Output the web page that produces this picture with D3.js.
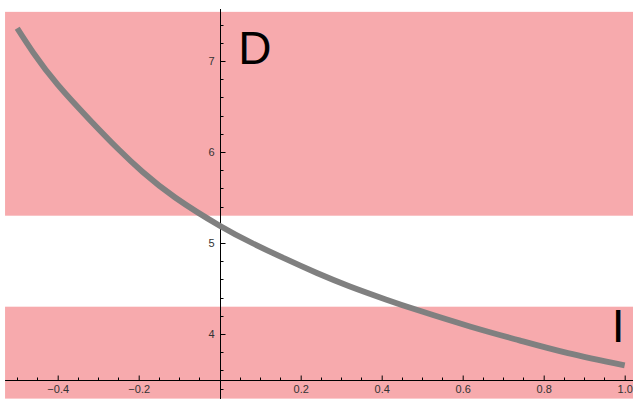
<!DOCTYPE html>
<html><head><meta charset="utf-8">
<script src="https://cdn.jsdelivr.net/npm/d3@7"></script>
<style>
html,body{margin:0;padding:0;background:#fff;}
svg{display:block;}
text{font-family:"Liberation Sans",Arial,sans-serif;}
</style></head>
<body>
<svg id="chart" width="633" height="399"></svg>
<script>
// ---- data ----
const curveX = [-0.5, -0.46, -0.4, -0.32, -0.25, -0.19, -0.11, 0, 0.08, 0.16, 0.24, 0.32, 0.41, 0.49, 0.62, 0.74, 0.86, 1.0];
const curveY = [7.36, 7.09, 6.74, 6.35, 6.03, 5.78, 5.50, 5.19, 5.00, 4.83, 4.67, 4.525, 4.38, 4.26, 4.08, 3.93, 3.79, 3.655];
const bandUpper = [5.3, 7.54];  // upper shaded band (y range)
const bandLower = [3.29, 4.3];  // lower shaded band (y range)
const xMajorTicks = [-0.4, -0.2, 0.2, 0.4, 0.6, 0.8, 1.0];
const xTickLabels = ["\u22120.4", "\u22120.2", "0.2", "0.4", "0.6", "0.8", "1.0"];
const yMajorTicks = [4, 5, 6, 7];
const yTickLabels = ["4", "5", "6", "7"];
const xDomain = [-0.53, 1.03];
const labels = [{text: "D", x: 0.046, y: 6.967}, {text: "I", x: 0.984, y: 3.912}];

// ---- scales ----
const svg = d3.select("#chart");
const x = d3.scaleLinear().domain([-0.5, 1.0]).range([17.2, 624.7]);
const y = d3.scaleLinear().domain([4, 7]).range([334, 61]);

// shaded bands
const bands = [bandUpper, bandLower];
svg.selectAll("rect.band").data(bands).enter().append("rect")
  .attr("class", "band")
  .attr("x", x(xDomain[0]))
  .attr("width", x(xDomain[1]) - x(xDomain[0]))
  .attr("y", d => y(d[1]))
  .attr("height", d => y(d[0]) - y(d[1]))
  .attr("fill", "#F7AAAD");

// axes
const axisY = 3.5;
const ay = Math.round(y(axisY)) + 0.5;
const ax = Math.round(x(0)) + 0.5;

const xMinor = d3.range(-10, 21).map(i => i * 0.05).filter(v => Math.abs(Math.round(v * 5) - v * 5) > 1e-6);
const yMinor = d3.range(17, 38).map(i => i * 0.2).filter(v => Math.abs(Math.round(v) - v) > 1e-6);

const gx = svg.append("g").attr("transform", `translate(0,${ay})`);
gx.append("line").attr("x1", x(xDomain[0])).attr("x2", 633).attr("stroke", "#000").attr("stroke-width", 1);
gx.selectAll("line.minor").data(xMinor).enter().append("line")
  .attr("x1", d => Math.round(x(d)) + 0.5).attr("x2", d => Math.round(x(d)) + 0.5)
  .attr("y1", 0).attr("y2", -3).attr("stroke", "#000");
const xAxis = d3.axisBottom(x).tickValues(xMajorTicks)
  .tickFormat((d, i) => xTickLabels[i]).tickSizeInner(-5).tickSizeOuter(0).tickPadding(5);
const gxa = gx.append("g").call(xAxis);
gxa.select(".domain").remove();
gxa.selectAll("text").attr("font-size", 11).attr("fill", "#333").attr("font-family", "'Liberation Sans',Arial,sans-serif");

const gy = svg.append("g").attr("transform", `translate(${ax},0)`);
gy.append("line").attr("y1", 9).attr("y2", 399).attr("stroke", "#000").attr("stroke-width", 1);
gy.selectAll("line.minor").data(yMinor).enter().append("line")
  .attr("y1", d => Math.round(y(d)) + 0.5).attr("y2", d => Math.round(y(d)) + 0.5)
  .attr("x1", 0).attr("x2", 3).attr("stroke", "#000");
const yAxis = d3.axisLeft(y).tickValues(yMajorTicks)
  .tickFormat((d, i) => yTickLabels[i]).tickSizeInner(-5).tickSizeOuter(0).tickPadding(6);
const gya = gy.append("g").call(yAxis);
gya.select(".domain").remove();
gya.selectAll("text").attr("font-size", 11).attr("fill", "#333").attr("font-family", "'Liberation Sans',Arial,sans-serif");

// curve
const pts = curveX.map((v, i) => [v, curveY[i]]);
const line = d3.line().x(d => x(d[0])).y(d => y(d[1])).curve(d3.curveNatural);
svg.append("path").attr("d", line(pts))
  .attr("fill", "none").attr("stroke", "#808080").attr("stroke-width", 5.8).attr("stroke-linecap", "butt");

// letters
svg.selectAll("text.lbl").data(labels).enter().append("text")
  .attr("class", "lbl")
  .attr("x", d => x(d.x))
  .attr("y", d => y(d.y))
  .attr("text-anchor", d => d.text === "I" ? "middle" : "start")
  .attr("font-size", 46)
  .attr("fill", "#000")
  .text(d => d.text);
</script>
</body></html>
